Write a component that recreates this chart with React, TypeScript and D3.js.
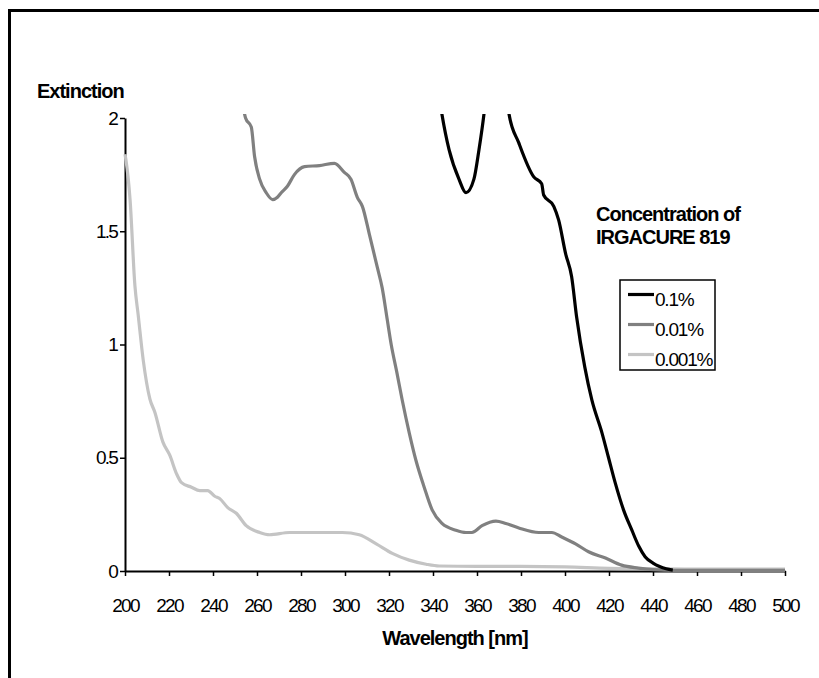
import React, { useEffect, useRef } from 'react';
import * as d3 from 'd3';

// Axis ticks
const xTicks = [200, 220, 240, 260, 280, 300, 320, 340, 360, 380, 400, 420, 440, 460, 480, 500];
const yTicks = [0, 0.5, 1, 1.5, 2];

// 0.1 % — black (goes off scale above 2 between ~344 and ~374 nm)
const wl01 = [340, 344, 347.3, 351.8, 355, 358.6, 360.9, 363.2, 368.5, 374.5, 379, 385.8, 389.4, 390.3,
  394.9, 397.1, 400.3, 403, 405.3, 409, 412.2, 416.8, 419.8, 422.8, 426.6, 430.4, 433.5, 436.4, 440, 443, 446, 449];
const ext01 = [2.3, 2.02, 1.86, 1.73, 1.67, 1.73, 1.86, 2.02, 2.6, 2.02, 1.89, 1.74, 1.71, 1.66,
  1.61, 1.55, 1.4, 1.3, 1.12, 0.9, 0.755, 0.61, 0.5, 0.39, 0.27, 0.18, 0.11, 0.063, 0.035, 0.02, 0.01, 0.004];

// 0.01 % — grey
const wl001 = [253.5, 254.8, 257.4, 258.9, 261.2, 264.2, 267.1, 269.3, 271, 273.9, 277, 281.6, 288.4,
  295.2, 299.7, 302.7, 305.6, 307.9, 311, 314.7, 316.9, 319.2, 321, 323.5, 326, 329.2, 332.2, 336, 339.6,
  344.1, 350.4, 355, 357.7, 362.3, 368.6, 373.1, 379, 388.1, 394, 398.5, 404.8, 410.7, 418.4, 425.7, 433.4,
  440, 450, 500];
const ext001 = [2.06, 2.0, 1.96, 1.83, 1.73, 1.67, 1.64, 1.65, 1.67, 1.7, 1.75, 1.785, 1.79,
  1.8, 1.76, 1.73, 1.65, 1.61, 1.49, 1.34, 1.25, 1.11, 1.0, 0.88, 0.755, 0.61, 0.49, 0.37, 0.27,
  0.21, 0.18, 0.17, 0.17, 0.2, 0.22, 0.21, 0.19, 0.17, 0.17, 0.15, 0.12, 0.085, 0.057, 0.026, 0.013,
  0.006, 0.003, 0.003];

// 0.001 % — light grey
const wl0001 = [200, 200.5, 202.3, 204.5, 206, 208.3, 211.3, 213.6, 217.2, 220.4, 223.4, 225.7, 230.2, 234,
  237.6, 240.8, 243, 246.7, 250.6, 255.1, 261.2, 265.7, 274.8, 279.3, 298.8, 306.5, 314.2, 321.5, 329.2,
  336.9, 342.8, 360, 380, 400, 420, 440, 460, 480, 500];
const ext0001 = [1.84, 1.81, 1.64, 1.26, 1.13, 0.93, 0.76, 0.7, 0.57, 0.51, 0.43, 0.39, 0.37, 0.355,
  0.355, 0.33, 0.32, 0.28, 0.255, 0.2, 0.17, 0.16, 0.17, 0.17, 0.17, 0.16, 0.12, 0.078, 0.048,
  0.03, 0.022, 0.02, 0.02, 0.018, 0.012, 0.01, 0.008, 0.008, 0.008];

const seriesNames = ['0.1%', '0.01%', '0.001%'];
const seriesColors = ['#000000', '#808080', '#c4c4c4'];

const FONT = '"Liberation Sans", Arial, sans-serif';

export default function App() {
  const svgRef = useRef<SVGSVGElement>(null);

  useEffect(() => {
    document.body.style.margin = '0';
    const svg = d3.select(svgRef.current);
    svg.selectAll('*').remove();

    const x = d3.scaleLinear().domain([200, 500]).range([125, 785]);
    const y = d3.scaleLinear().domain([0, 2]).range([571, 118]);

    // outer frame (only top and left edges visible)
    svg.append('path')
      .attr('d', 'M9.5,678 V10.5 H819')
      .attr('fill', 'none').attr('stroke', '#000').attr('stroke-width', 3);

    svg.append('clipPath').attr('id', 'plot-clip')
      .append('rect')
      .attr('x', x(200) - 2).attr('y', y(2) - 4)
      .attr('width', x(500) - x(200) + 8).attr('height', y(0) - y(2) + 10);

    // axes
    const xAxis = svg.append('g')
      .attr('transform', `translate(0,${y(0)})`)
      .call(d3.axisBottom(x).tickValues(xTicks).tickSize(5).tickSizeOuter(0).tickPadding(22.5));
    const yAxis = svg.append('g')
      .attr('transform', `translate(${x(200)},0)`)
      .call(d3.axisLeft(y).tickValues(yTicks).tickSize(5).tickSizeOuter(0).tickPadding(3)
        .tickFormat(d => String(d)));

    [xAxis, yAxis].forEach(a => {
      a.select('.domain').attr('stroke', '#000').attr('stroke-width', 2);
      a.selectAll('.tick line').attr('stroke', '#000').attr('stroke-width', 1.5);
      a.selectAll('.tick text')
        .attr('fill', '#000')
        .style('font-family', FONT)
        .style('font-size', '19px')
        .style('letter-spacing', '-1.8px');
    });

    // curves
    const line = d3.line<[number, number]>()
      .x(d => x(d[0]))
      .y(d => y(d[1]))
      .curve(d3.curveMonotoneX);

    const series = [
      { wl: wl0001, ext: ext0001, color: seriesColors[2] },
      { wl: wl001, ext: ext001, color: seriesColors[1] },
      { wl: wl01, ext: ext01, color: seriesColors[0] },
    ];

    const plot = svg.append('g').attr('clip-path', 'url(#plot-clip)');
    series.forEach(s => {
      const pts = s.wl.map((w, i) => [w, s.ext[i]] as [number, number]);
      plot.append('path')
        .datum(pts)
        .attr('fill', 'none')
        .attr('stroke', s.color)
        .attr('stroke-width', 3.2)
        .attr('stroke-linejoin', 'round')
        .attr('d', line);
    });

    // titles
    const bold = (t: string, tx: number, ty: number, anchor = 'start') =>
      svg.append('text')
        .attr('x', tx).attr('y', ty)
        .attr('text-anchor', anchor)
        .style('font-family', FONT)
        .style('font-size', '20px')
        .style('font-weight', 'bold')
        .style('letter-spacing', '-1px')
        .text(t);

    bold('Extinction', 37, 98);
    bold('Wavelength [nm]', 455, 645, 'middle');
    bold('Concentration of', 596, 221);
    bold('IRGACURE 819', 596, 244);

    // legend
    const legend = svg.append('g');
    legend.append('rect')
      .attr('x', 620).attr('y', 280)
      .attr('width', 95).attr('height', 90)
      .attr('fill', 'none').attr('stroke', '#000').attr('stroke-width', 1.5);

    seriesNames.forEach((name, i) => {
      const ly = 294.5 + i * 30;
      legend.append('line')
        .attr('x1', 628).attr('x2', 654)
        .attr('y1', ly).attr('y2', ly)
        .attr('stroke', seriesColors[i]).attr('stroke-width', 3.2);
      legend.append('text')
        .attr('x', 655).attr('y', ly + 11.5)
        .style('font-family', FONT)
        .style('font-size', '19px')
        .style('letter-spacing', '-1.2px')
        .text(name);
    });
  }, []);

  return <svg ref={svgRef} width={819} height={678} style={{ display: 'block' }} />;
}
